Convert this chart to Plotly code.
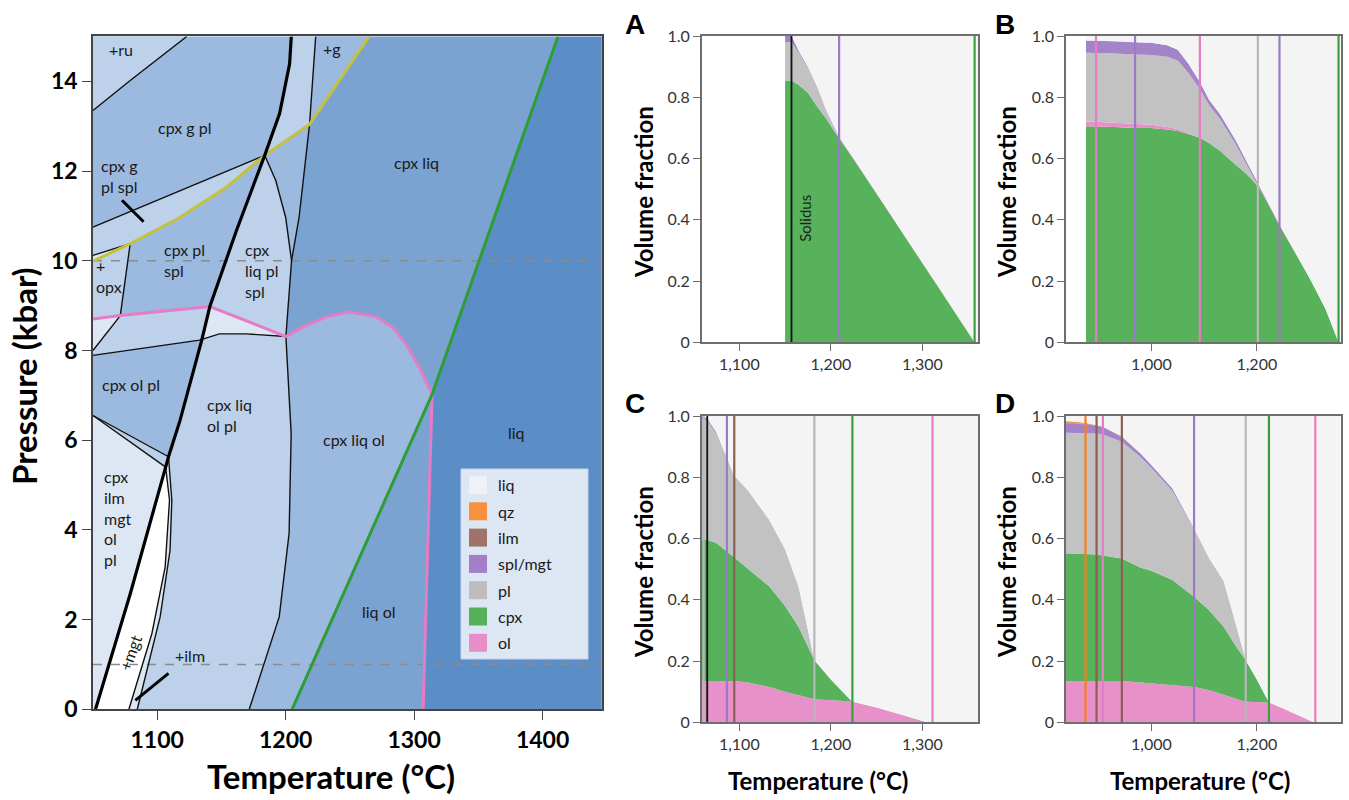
import plotly.graph_objects as go

W, H = 1349, 800

# ---------------- Left panel: phase boundaries (T in °C, P in kbar) ----------------
T_MIN, T_MAX, P_MAX = 1050.0, 1446.0, 15.0

SOLIDUS_T = [1052.0, 1079.0, 1106.6, 1108.8, 1117.8, 1134.6, 1141.0, 1161.8, 1183.7, 1195.3, 1203.1, 1204.4]
SOLIDUS_P = [0.0, 2.57, 5.40, 5.63, 6.44, 8.22, 8.98, 10.68, 12.35, 13.28, 14.39, 15.0]

THIN_R_T = [1171.7, 1195.0, 1202.7, 1204.3, 1200.2, 1202.7, 1204.6, 1210.5, 1218.6, 1223.4]
THIN_R_P = [0.0, 2.06, 3.92, 6.14, 8.31, 9.19, 10.0, 10.97, 13.04, 15.0]

LENS_T = [1183.7, 1192.3, 1200.0, 1204.6]
LENS_P = [12.35, 11.79, 10.97, 10.0]

GREEN_T = [1205.0, 1314.0, 1412.0]
GREEN_P = [0.0, 7.02, 15.0]

PINK_T = [1050.0, 1071.3, 1141.0, 1200.2, 1213.4, 1231.5, 1249.6, 1270.3, 1283.2, 1293.6, 1303.9, 1314.0, 1307.0]
PINK_P = [8.70, 8.78, 8.98, 8.31, 8.52, 8.75, 8.86, 8.75, 8.52, 8.15, 7.63, 7.02, 0.0]

YELLOW_T = [1050.0, 1079.0, 1117.8, 1153.9, 1183.7, 1218.6, 1265.0]
YELLOW_P = [9.99, 10.38, 10.97, 11.64, 12.35, 13.04, 15.0]

RU_T = [1050.0, 1079.0, 1123.0]
RU_P = [13.35, 14.02, 15.0]
UPPER_T = [1050.0, 1117.8, 1183.7]
UPPER_P = [10.75, 11.57, 12.35]
OPXTOP_T = [1050.0, 1079.0]
OPXTOP_P = [10.12, 10.38]
OPX_T = [1079.0, 1071.3, 1068.4, 1050.0]
OPX_P = [10.38, 8.78, 8.67, 8.0]
LOWER_T = [1050.0, 1133.0, 1148.4, 1169.0, 1200.2]
LOWER_P = [7.89, 8.23, 8.37, 8.37, 8.31]
W1_T = [1050.0, 1108.8]
W1_P = [6.55, 5.63]
W2_T = [1050.0, 1106.6]
W2_P = [6.55, 5.40]
MGT_T = [1106.6, 1109.6, 1106.2, 1095.9, 1078.0]
MGT_P = [5.40, 4.66, 3.17, 1.69, 0.0]
ILM_T = [1108.8, 1111.4, 1110.0, 1102.3, 1084.5]
ILM_P = [5.63, 4.66, 3.54, 2.06, 0.0]
TICK_SPL_T = [1072.6, 1089.4]
TICK_SPL_P = [11.35, 10.87]
TICK_ILM_T = [1108.8, 1083.0]
TICK_ILM_P = [0.80, 0.20]
DASH_P = [10.0, 1.0]

LABELS = ["+ru", "cpx g pl", "cpx g<br>pl spl", "+<br>opx", "cpx pl<br>spl", "cpx<br>liq pl<br>spl",
          "+g", "cpx liq", "cpx ol pl", "cpx liq<br>ol pl", "cpx liq ol", "liq",
          "cpx<br>ilm<br>mgt<br>ol<br>pl", "+ilm", "liq ol"]
LABEL_T = [1072.1, 1121.7, 1055.0, 1051.2, 1103.9, 1166.7, 1236.4, 1301.6, 1055.8, 1137.2, 1253.5, 1379.8, 1057.4, 1125.6, 1272.9]
LABEL_P = [14.70, 12.98, 11.88, 9.66, 10.02, 9.79, 14.74, 12.18, 7.25, 6.56, 6.01, 6.18, 4.27, 1.21, 2.17]
LABEL_ANCHOR = ["center", "center", "left", "left", "left", "left", "center", "center", "left", "left",
                "center", "center", "left", "center", "center"]

C1, C2, C3, C4, C5, C6 = "#5b8dc6", "#7aa3d1", "#9cb9df", "#bdd1ea", "#dde7f4", "#ffffff"

# ---------------- Right panels: volume fractions ----------------
PHASES = ["liq", "qz", "ilm", "spl/mgt", "pl", "cpx", "ol"]
LEG_COLORS = ["#eef2f8", "#f7913d", "#a0736a", "#a27fc8", "#bdbdbd", "#55b059", "#e68fc9"]
FILL = {"liq": "#f4f4f4", "qz": "#f7913d", "ilm": "#9e6f66", "spl": "#a484c9",
        "pl": "#c2c2c2", "cpx": "#57b25b", "ol": "#e890c9"}
VCOL = {"spl": "#9b7bc4", "ol": "#e37dc4", "pl": "#b8b8b8", "cpx": "#3aa03e",
        "ilm": "#8c5f55", "qz": "#f77f1b", "solidus": "#111111"}

A_T = [1150, 1157, 1165, 1175, 1185, 1195, 1209, 1230, 1260, 1290, 1320, 1357, 1361]
A_CPX = [0.855, 0.855, 0.84, 0.815, 0.77, 0.73, 0.665, 0.575, 0.44, 0.305, 0.17, 0.0, 0.0]
A_PL = [0.125, 0.125, 0.105, 0.08, 0.06, 0.023, 0.003, 0, 0, 0, 0, 0, 0]
A_SPL = [0.02, 0.02, 0.006, 0.004, 0.004, 0.004, 0.003, 0, 0, 0, 0, 0, 0]
A_VT = [1157, 1209, 1357]
A_VP = ["solidus", "spl", "cpx"]

B_T = [876, 895, 930, 969, 1000, 1030, 1050, 1070, 1092, 1110, 1130, 1160, 1180, 1202, 1220, 1243, 1270, 1300, 1330, 1355, 1359]
B_CPX = [0.705, 0.705, 0.703, 0.700, 0.700, 0.695, 0.690, 0.680, 0.668, 0.650, 0.625, 0.580, 0.550, 0.510, 0.455, 0.380, 0.300, 0.210, 0.110, 0.0, 0.0]
B_OL = [0.015, 0.015, 0.014, 0.012, 0.010, 0.008, 0.006, 0.003, 0, 0, 0, 0, 0, 0, 0, 0, 0, 0, 0, 0, 0]
B_PL = [0.225, 0.225, 0.226, 0.228, 0.228, 0.229, 0.224, 0.197, 0.158, 0.122, 0.105, 0.067, 0.033, 0, 0, 0, 0, 0, 0, 0, 0]
B_SPL = [0.040, 0.040, 0.040, 0.040, 0.040, 0.038, 0.035, 0.030, 0.024, 0.018, 0.015, 0.013, 0.012, 0.010, 0.005, 0.003, 0, 0, 0, 0, 0]
B_VT = [895, 969, 1092, 1202, 1243, 1355]
B_VP = ["ol", "spl", "ol", "pl", "spl", "cpx"]

C_T = [1059, 1065, 1075, 1086, 1094, 1110, 1133, 1150, 1165, 1182, 1200, 1223, 1250, 1280, 1305, 1361]
C_OL = [0.135, 0.135, 0.136, 0.137, 0.135, 0.130, 0.115, 0.100, 0.088, 0.075, 0.072, 0.068, 0.048, 0.022, 0.0, 0.0]
C_CPX = [0.460, 0.460, 0.449, 0.423, 0.405, 0.370, 0.328, 0.280, 0.222, 0.128, 0.068, 0.0, 0, 0, 0, 0]
C_PL = [0.395, 0.390, 0.355, 0.307, 0.267, 0.255, 0.217, 0.185, 0.130, 0.0, 0, 0, 0, 0, 0, 0]
C_SPL = [0.008, 0.006, 0.004, 0.0, 0, 0, 0, 0, 0, 0, 0, 0, 0, 0, 0, 0]
C_ILM = [0.002, 0.002, 0.002, 0.002, 0.0, 0, 0, 0, 0, 0, 0, 0, 0, 0, 0, 0]
C_VT = [1061, 1065, 1086.5, 1094.5, 1182, 1223.5, 1311]
C_VP = ["pl", "solidus", "spl", "ilm", "pl", "cpx", "ol"]

D_T = [838, 875, 896, 908, 944, 980, 1000, 1040, 1081, 1110, 1137, 1160, 1179, 1200, 1223, 1250, 1280, 1308, 1359]
D_OL = [0.135, 0.135, 0.135, 0.135, 0.135, 0.130, 0.127, 0.122, 0.115, 0.105, 0.090, 0.077, 0.067, 0.066, 0.065, 0.045, 0.022, 0.0, 0.0]
D_CPX = [0.417, 0.415, 0.413, 0.410, 0.400, 0.375, 0.368, 0.343, 0.295, 0.260, 0.222, 0.173, 0.136, 0.074, 0.0, 0, 0, 0, 0]
D_PL = [0.393, 0.395, 0.395, 0.395, 0.381, 0.360, 0.335, 0.290, 0.220, 0.170, 0.150, 0.072, 0.0, 0, 0, 0, 0, 0, 0]
D_SPL = [0.031, 0.028, 0.025, 0.023, 0.015, 0.012, 0.010, 0.008, 0.003, 0, 0, 0, 0, 0, 0, 0, 0, 0, 0]
D_ILM = [0.002, 0.002, 0.002, 0.002, 0.002, 0, 0, 0, 0, 0, 0, 0, 0, 0, 0, 0, 0, 0, 0]
D_QZ = [0.006, 0.003, 0, 0, 0, 0, 0, 0, 0, 0, 0, 0, 0, 0, 0, 0, 0, 0, 0]
D_VT = [875, 896, 908, 944, 1081, 1179, 1223, 1311]
D_VP = ["qz", "ilm", "ol", "ilm", "spl", "pl", "cpx", "ol"]

FONT = "Lato"
fig = go.Figure()


def poly(T, P, color):
    fig.add_trace(go.Scatter(x=T, y=P, mode="lines", fill="toself", fillcolor=color,
                             line=dict(width=0), hoverinfo="skip", showlegend=False,
                             xaxis="x", yaxis="y"))


def line(T, P, color, width, dash=None):
    fig.add_trace(go.Scatter(x=T, y=P, mode="lines", line=dict(color=color, width=width, dash=dash),
                             hoverinfo="skip", showlegend=False, xaxis="x", yaxis="y"))


def rev(a):
    return list(a)[::-1]

# liquid only
poly(GREEN_T + [T_MAX + 20, T_MAX + 20], GREEN_P + [P_MAX, 0.0], C1)
# cpx liq
poly(THIN_R_T[4:] + rev(GREEN_T)[:2] + rev(PINK_T[3:12]),
     THIN_R_P[4:] + rev(GREEN_P)[:2] + rev(PINK_P[3:12]), C2)
# liq ol
poly(GREEN_T[:2] + PINK_T[11:13], GREEN_P[:2] + PINK_P[11:13], C2)
# +g (cpx liq g)
poly(THIN_R_T[8:10] + rev(YELLOW_T[5:7]), THIN_R_P[8:10] + rev(YELLOW_P[5:7]), C3)
# supersolidus strip
poly(SOLIDUS_T + rev(THIN_R_T), SOLIDUS_P + rev(THIN_R_P), C4)
# lens
poly(LENS_T + THIN_R_T[7:9] + rev(YELLOW_T[4:6]), LENS_P + THIN_R_P[7:9] + rev(YELLOW_P[4:6]), C3)
# under pink, right of solidus
poly(SOLIDUS_T[5:7] + PINK_T[2:4] + rev(LOWER_T[1:5]), SOLIDUS_P[5:7] + PINK_P[2:4] + rev(LOWER_P[1:5]), C5)
# +mgt
poly(SOLIDUS_T[0:3] + MGT_T, SOLIDUS_P[0:3] + MGT_P, C6)
# +ilm sliver
poly(rev(MGT_T) + SOLIDUS_T[2:4] + ILM_T, rev(MGT_P) + SOLIDUS_P[2:4] + ILM_P, C5)
# +ru
poly(RU_T + [T_MIN], RU_P + [P_MAX], C4)
# cpx g pl spl
poly(UPPER_T + rev(YELLOW_T[0:5]), UPPER_P + rev(YELLOW_P[0:5]), C4)
# sliver above yellow at left
poly(OPXTOP_T + rev(YELLOW_T[0:2]), OPXTOP_P + rev(YELLOW_P[0:2]), C5)
# +opx above pink
poly(YELLOW_T[0:2] + OPX_T[1:2] + rev(PINK_T[0:2]), YELLOW_P[0:2] + OPX_P[1:2] + rev(PINK_P[0:2]), C4)
# below pink, opx side
poly(PINK_T[0:2] + OPX_T[1:4], PINK_P[0:2] + OPX_P[1:4], C5)
# below pink, right of opx line
poly(PINK_T[1:3] + rev(SOLIDUS_T[5:7]) + rev(LOWER_T[0:2]) + rev(OPX_T[1:4]),
     PINK_P[1:3] + rev(SOLIDUS_P[5:7]) + rev(LOWER_P[0:2]) + rev(OPX_P[1:4]), C4)
# thin wedge
poly(W1_T + rev(SOLIDUS_T[2:4]) + rev(W2_T), W1_P + rev(SOLIDUS_P[2:4]) + rev(W2_P), C4)
# cpx ilm mgt ol pl
poly(W2_T + rev(SOLIDUS_T[0:3]) + [T_MIN], W2_P + rev(SOLIDUS_P[0:3]) + [0.0], C5)

# dashed reference isobars
for p in DASH_P:
    line([T_MIN, T_MAX], [p, p], "#8c8c8c", 1.6, "dash")

# thin boundaries
for tt, pp in [(RU_T, RU_P), (UPPER_T, UPPER_P), (OPXTOP_T, OPXTOP_P), (OPX_T, OPX_P),
               (LOWER_T, LOWER_P), (W1_T, W1_P), (W2_T, W2_P), (MGT_T, MGT_P), (ILM_T, ILM_P),
               (THIN_R_T, THIN_R_P), (LENS_T, LENS_P)]:
    line(tt, pp, "#111111", 1.4)
line(YELLOW_T, YELLOW_P, "#c4c23a", 3)
line(PINK_T, PINK_P, "#e47cc6", 3)
line(GREEN_T, GREEN_P, "#2e9e34", 3)
line(SOLIDUS_T, SOLIDUS_P, "#000000", 3.2)
line(TICK_SPL_T, TICK_SPL_P, "#000000", 3)
line(TICK_ILM_T, TICK_ILM_P, "#000000", 3)

annotations = []
for txt, t, p, anc in zip(LABELS, LABEL_T, LABEL_P, LABEL_ANCHOR):
    annotations.append(dict(x=t, y=p, xref="x", yref="y", text=txt, showarrow=False,
                            xanchor=anc, yanchor="middle", align="left",
                            font=dict(family=FONT, size=16, color="#1a1a1a")))
annotations.append(dict(x=1079.1, y=1.26, xref="x", yref="y", text="+mgt", showarrow=False,
                        textangle=-70, xanchor="center", yanchor="middle",
                        font=dict(family=FONT, size=16, color="#1a1a1a")))

# ---------------- Right panels ----------------
panels = [
    ("x2", "y2", A_T, [("cpx", A_CPX), ("pl", A_PL), ("spl", A_SPL)], A_VT, A_VP),
    ("x3", "y3", B_T, [("cpx", B_CPX), ("ol", B_OL), ("pl", B_PL), ("spl", B_SPL)], B_VT, B_VP),
    ("x4", "y4", C_T, [("ol", C_OL), ("cpx", C_CPX), ("pl", C_PL), ("spl", C_SPL), ("ilm", C_ILM)], C_VT, C_VP),
    ("x5", "y5", D_T, [("ol", D_OL), ("cpx", D_CPX), ("pl", D_PL), ("spl", D_SPL), ("ilm", D_ILM), ("qz", D_QZ)], D_VT, D_VP),
]
for xa, ya, T, series, VT, VP in panels:
    total = [0.0] * len(T)
    for name, vals in series:
        fig.add_trace(go.Scatter(x=T, y=vals, stackgroup=xa, mode="lines", line=dict(width=0),
                                 fillcolor=FILL[name], hoverinfo="skip", showlegend=False,
                                 xaxis=xa, yaxis=ya))
        total = [a + b for a, b in zip(total, vals)]
    liq = [max(0.0, 1.0 - s) for s in total]
    fig.add_trace(go.Scatter(x=T, y=liq, stackgroup=xa, mode="lines", line=dict(width=0),
                             fillcolor=FILL["liq"], hoverinfo="skip", showlegend=False,
                             xaxis=xa, yaxis=ya))
    for t, ph in zip(VT, VP):
        fig.add_trace(go.Scatter(x=[t, t], y=[0, 1], mode="lines",
                                 line=dict(color=VCOL[ph], width=2.2 if ph != "solidus" else 1.8),
                                 hoverinfo="skip", showlegend=False, xaxis=xa, yaxis=ya))

annotations.append(dict(x=1172.4, y=0.405, xref="x2", yref="y2", text="Solidus", showarrow=False,
                        textangle=-90, xanchor="center", yanchor="middle",
                        font=dict(family=FONT, size=15, color="#222")))

# panel letters & titles (paper coords from pixels)
def px(x):
    return x / W

def py(y):
    return 1 - y / H

def ptext(x, y, text, size, bold=True, angle=0, family=FONT):
    annotations.append(dict(x=px(x), y=py(y), xref="paper", yref="paper", text=text, showarrow=False,
                            textangle=angle, xanchor="center", yanchor="middle",
                            font=dict(family=family, size=size, color="#000", weight=700 if bold else 400)))

for letter, x, y in [("A", 635, 24), ("B", 1005, 24), ("C", 635, 403), ("D", 1005, 403)]:
    ptext(x, y, letter, 28, family="Liberation Sans")
for x, y in [(643, 192), (1006, 192), (643, 572), (1006, 572)]:
    ptext(x, y, "Volume fraction", 24, angle=-90)
for x in [818, 1200]:
    ptext(x, 780, "Temperature (°C)", 24)
ptext(331, 776, "Temperature (°C)", 33)
ptext(24, 376, "Pressure (kbar)", 33, angle=-90)

# legend box
shapes = [dict(type="rect", xref="x domain", yref="y domain", x0=0, x1=1, y0=0, y1=1,
               fillcolor=C3, line=dict(width=0), layer="below"),
          dict(type="rect", xref="paper", yref="paper", x0=px(461), x1=px(588), y0=py(659), y1=py(469),
               fillcolor="#dde6f3", line=dict(color="#c9d4e6", width=1), layer="above")]
for i, (name, col) in enumerate(zip(PHASES, LEG_COLORS)):
    yc = 485 + i * 26.3
    shapes.append(dict(type="rect", xref="paper", yref="paper", x0=px(469), x1=px(487),
                       y0=py(yc + 9), y1=py(yc - 9), fillcolor=col, line=dict(width=0), layer="above"))
    annotations.append(dict(x=px(496), y=py(yc), xref="paper", yref="paper", text=name, showarrow=False,
                            xanchor="left", yanchor="middle",
                            font=dict(family=FONT, size=16, color="#1a1a1a")))

left_tick_font = dict(family=FONT, size=23, color="#000", weight=700)
right_tick_font = dict(family=FONT, size=16, color="#333")

def raxis(domain, vals, text):
    return dict(domain=domain, tickvals=vals, ticktext=text, showline=True, mirror=True,
                linecolor="#6e6e6e", linewidth=1.5, ticks="outside", ticklen=7, tickcolor="#6e6e6e",
                showgrid=False, zeroline=False, tickfont=right_tick_font, automargin=False)

YV = [0, 0.2, 0.4, 0.6, 0.8, 1.0]
YT = ["0", "0.2", "0.4", "0.6", "0.8", "1.0"]
xa_ac = raxis([0.5202, 0.7252], [1100, 1200, 1300], ["1,100", "1,200", "1,300"])
xa_bd = raxis([0.7902, 0.9938], [1000, 1200], ["1,000", "1,200"])

fig.update_layout(
    width=W, height=H, margin=dict(l=0, r=0, t=0, b=0, autoexpand=False),
    paper_bgcolor="white", plot_bgcolor="white", showlegend=False,
    xaxis=dict(domain=[0.0689, 0.4460], range=[T_MIN, T_MAX], tickvals=[1100, 1200, 1300, 1400],
               showline=True, mirror=True, linecolor="#444", linewidth=1.5, ticks="outside",
               ticklen=9, tickcolor="#444", showgrid=False, zeroline=False, tickfont=left_tick_font,
               automargin=False),
    yaxis=dict(domain=[0.1134, 0.9544], range=[0, P_MAX], tickvals=list(range(0, 15, 2)),
               showline=True, mirror=True, linecolor="#444", linewidth=1.5, ticks="outside",
               ticklen=9, tickcolor="#444", showgrid=False, zeroline=False, tickfont=left_tick_font,
               automargin=False),
    xaxis2=dict(**xa_ac, range=[1059, 1361], anchor="y2"),
    yaxis2=dict(**raxis([0.5721, 0.955], YV, YT), range=[0, 1], anchor="x2"),
    xaxis3=dict(**xa_bd, range=[838, 1359], anchor="y3"),
    yaxis3=dict(**raxis([0.5721, 0.955], YV, YT), range=[0, 1], anchor="x3"),
    xaxis4=dict(**xa_ac, range=[1059, 1361], anchor="y4"),
    yaxis4=dict(**raxis([0.0971, 0.48], YV, YT), range=[0, 1], anchor="x4"),
    xaxis5=dict(**xa_bd, range=[838, 1359], anchor="y5"),
    yaxis5=dict(**raxis([0.0971, 0.48], YV, YT), range=[0, 1], anchor="x5"),
    annotations=annotations, shapes=shapes,
)

fig.write_html("out.html", config={"displayModeBar": False},
               post_script="document.body.style.margin='0';")
